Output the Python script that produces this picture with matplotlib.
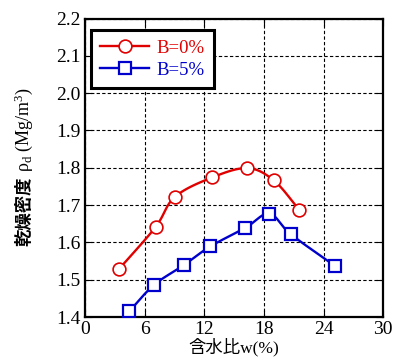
import numpy as np
import matplotlib
matplotlib.use("Agg")
import matplotlib.pyplot as plt

plt.rcParams['font.family'] = ['Liberation Serif', 'Noto Sans CJK JP']
plt.rcParams['mathtext.fontset'] = 'custom'
plt.rcParams['mathtext.rm'] = 'Liberation Serif'
plt.rcParams['mathtext.it'] = 'Liberation Serif:italic'

# --------------------------
# データ
# --------------------------
w_b0 = [3.45, 7.1, 9.05, 12.8, 16.35, 19.0, 21.55]
rho_b0 = [1.529, 1.641, 1.722, 1.774, 1.799, 1.766, 1.688]

w_b5 = [4.45, 6.95, 9.95, 12.6, 16.15, 18.55, 20.7, 25.2]
rho_b5 = [1.415, 1.486, 1.539, 1.589, 1.639, 1.677, 1.622, 1.536]

x_ticks = [0, 6, 12, 18, 24, 30]
y_ticks = [1.4, 1.5, 1.6, 1.7, 1.8, 1.9, 2.0, 2.1, 2.2]


def smooth(x, y, n=20):
    # Catmull-Rom で点の間をなめらかに結ぶ（描画用）
    x = np.asarray(x, float)
    y = np.asarray(y, float)
    px = np.concatenate([[2 * x[0] - x[1]], x, [2 * x[-1] - x[-2]]])
    py = np.concatenate([[2 * y[0] - y[1]], y, [2 * y[-1] - y[-2]]])
    t = np.linspace(0, 1, n)
    xs, ys = [], []
    for i in range(1, len(px) - 2):
        for p, out in ((px, xs), (py, ys)):
            p0, p1, p2, p3 = p[i - 1], p[i], p[i + 1], p[i + 2]
            out.append(0.5 * ((2 * p1) + (-p0 + p2) * t
                              + (2 * p0 - 5 * p1 + 4 * p2 - p3) * t ** 2
                              + (-p0 + 3 * p1 - 3 * p2 + p3) * t ** 3))
    return np.concatenate(xs), np.concatenate(ys)


fig = plt.figure(figsize=(3.95, 3.6), dpi=100)
ax = fig.add_axes([0.215, 0.1194, 0.755, 0.8292])

red = '#e00000'
blue = '#0000cc'

sx, sy = smooth(w_b0, rho_b0)
ax.plot(sx, sy, color=red, lw=1.7, zorder=3)
ax.plot(w_b0, rho_b0, ls='none', marker='o', ms=9.2, mfc='white',
        mec=red, mew=1.2, zorder=4)
sx, sy = smooth(w_b5, rho_b5)
ax.plot(sx, sy, color=blue, lw=1.7, zorder=3)
ax.plot(w_b5, rho_b5, ls='none', marker='s', ms=8.5, mfc='white',
        mec=blue, mew=1.6, zorder=4)

# 凡例用のダミー線
h0, = ax.plot([], [], color=red, lw=1.7, marker='o', ms=9.2, mfc='white',
              mec=red, mew=1.2, label='B=0%')
h5, = ax.plot([], [], color=blue, lw=1.7, marker='s', ms=8.0, mfc='white',
              mec=blue, mew=1.6, label='B=5%')
leg = ax.legend(handles=[h0, h5], loc='upper left', bbox_to_anchor=(0.02, 0.96),
                fontsize=13.5, fancybox=False, framealpha=1, edgecolor='black',
                handlelength=2.6, handletextpad=0.4, borderpad=0.5,
                labelspacing=0.25, borderaxespad=0)
leg.get_frame().set_linewidth(2.2)
for txt, c in zip(leg.get_texts(), [red, blue]):
    txt.set_color(c)

ax.set_xlim(0, 30)
ax.set_ylim(1.4, 2.2)
ax.set_xticks(x_ticks)
ax.set_yticks(y_ticks)
ax.set_yticklabels([f'{v:.1f}' for v in y_ticks])
ax.tick_params(direction='in', top=True, right=True, labelsize=14,
               length=5, width=0.8, pad=3)
ax.grid(True, color='black', ls=(0, (3, 2)), lw=0.8)
for s in ax.spines.values():
    s.set_linewidth(1.6)
    s.set_linestyle((0, (3, 1)))

ax.set_xlabel('含水比w(%)', fontsize=12.5, labelpad=0)

# 縦軸ラベル：漢字部分と記号部分を分けて配置（mathtext は CJK を描けないため）
fig.text(0.062, (360 - 246) / 360, '乾燥密度', rotation=90, fontsize=12.5,
         fontweight='bold', ha='center', va='bottom')
fig.text(0.060, (360 - 172) / 360, 'ρ$_\\mathrm{d}$ (Mg/m$^3$)', rotation=90,
         fontsize=13, ha='center', va='bottom')

fig.savefig('out.png', dpi=100)
